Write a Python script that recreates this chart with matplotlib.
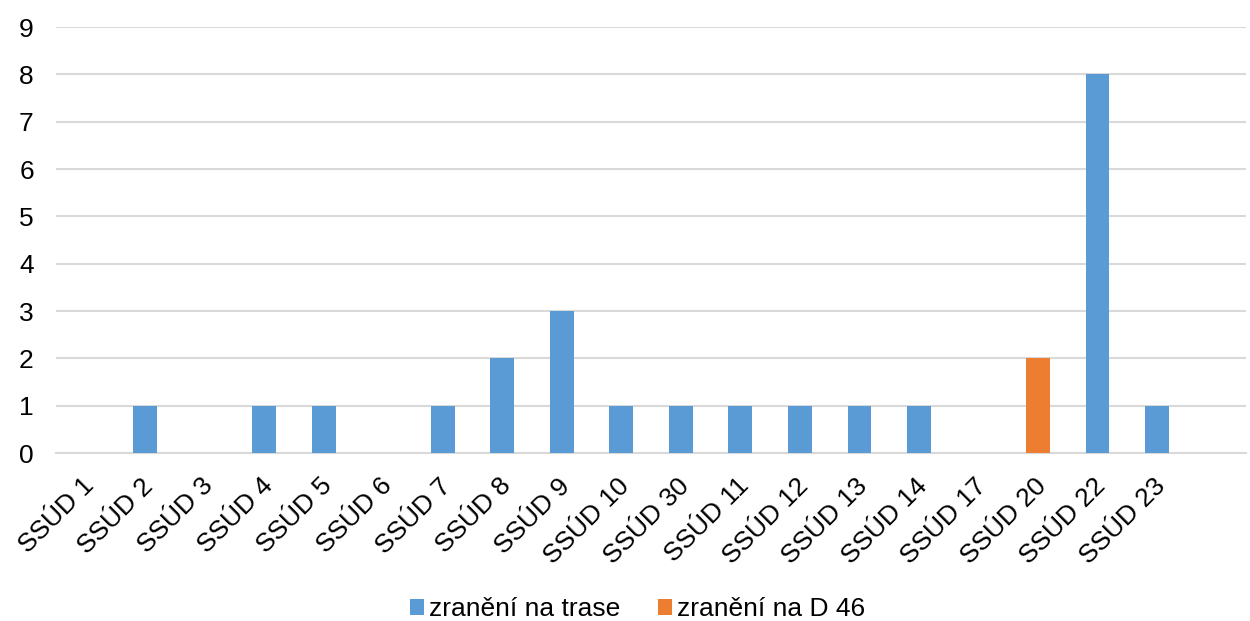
import matplotlib
matplotlib.use("Agg")
import matplotlib.pyplot as plt
import matplotlib.transforms as mtransforms
import numpy as np

categories = ["SSÚD 1", "SSÚD 2", "SSÚD 3", "SSÚD 4", "SSÚD 5", "SSÚD 6", "SSÚD 7",
              "SSÚD 8", "SSÚD 9", "SSÚD 10", "SSÚD 30", "SSÚD 11", "SSÚD 12",
              "SSÚD 13", "SSÚD 14", "SSÚD 17", "SSÚD 20", "SSÚD 22", "SSÚD 23", ""]
trasa = [0, 1, 0, 1, 1, 0, 1, 2, 3, 1, 1, 1, 1, 1, 1, 0, 0, 8, 1, 0]
d46 = [0, 0, 0, 0, 0, 0, 0, 0, 0, 0, 0, 0, 0, 0, 0, 0, 2, 0, 0, 0]
series_names = ["zranění na trase", "zranění na D 46"]
colors = ["#5b9bd5", "#ed7d31"]

plt.rcParams['font.family'] = ['Liberation Sans', 'DejaVu Sans']

fig = plt.figure(figsize=(12.5, 6.21), dpi=100)
ax = fig.add_axes([0.0448, 0.2705, 0.9522, 0.686])

x = np.arange(len(categories))
ax.bar(x, trasa, width=0.4, color=colors[0], label=series_names[0], zorder=3)
ax.bar(x, d46, width=0.4, bottom=trasa, color=colors[1], label=series_names[1], zorder=3)

ax.set_xlim(-0.5, len(categories) - 0.5)
ax.set_ylim(0, 9)
ax.set_yticks(range(0, 10))
ax.yaxis.grid(True, color="#d9d9d9", linewidth=1.5, zorder=0)
ax.set_axisbelow(True)
for s in ["top", "right", "left"]:
    ax.spines[s].set_visible(False)
ax.spines["bottom"].set_color("#d9d9d9")
ax.spines["bottom"].set_linewidth(1.5)
ax.tick_params(axis="both", length=0, labelsize=19, colors="black")
ax.tick_params(axis="y", pad=16)

ax.set_xticks(x)
ax.set_xticklabels(categories, rotation=45, ha="right", va="top", rotation_mode="anchor")
offset = mtransforms.ScaledTranslation(-4 / 100, -16 / 100, fig.dpi_scale_trans)
for lab in ax.get_xticklabels():
    lab.set_transform(lab.get_transform() + offset)

fig.legend(loc="lower center", bbox_to_anchor=(0.51, -0.039), ncol=2, frameon=False,
           fontsize=19, handlelength=0.53, handleheight=0.53, handletextpad=0.2,
           columnspacing=1.4)

fig.savefig("out.png", dpi=100)
